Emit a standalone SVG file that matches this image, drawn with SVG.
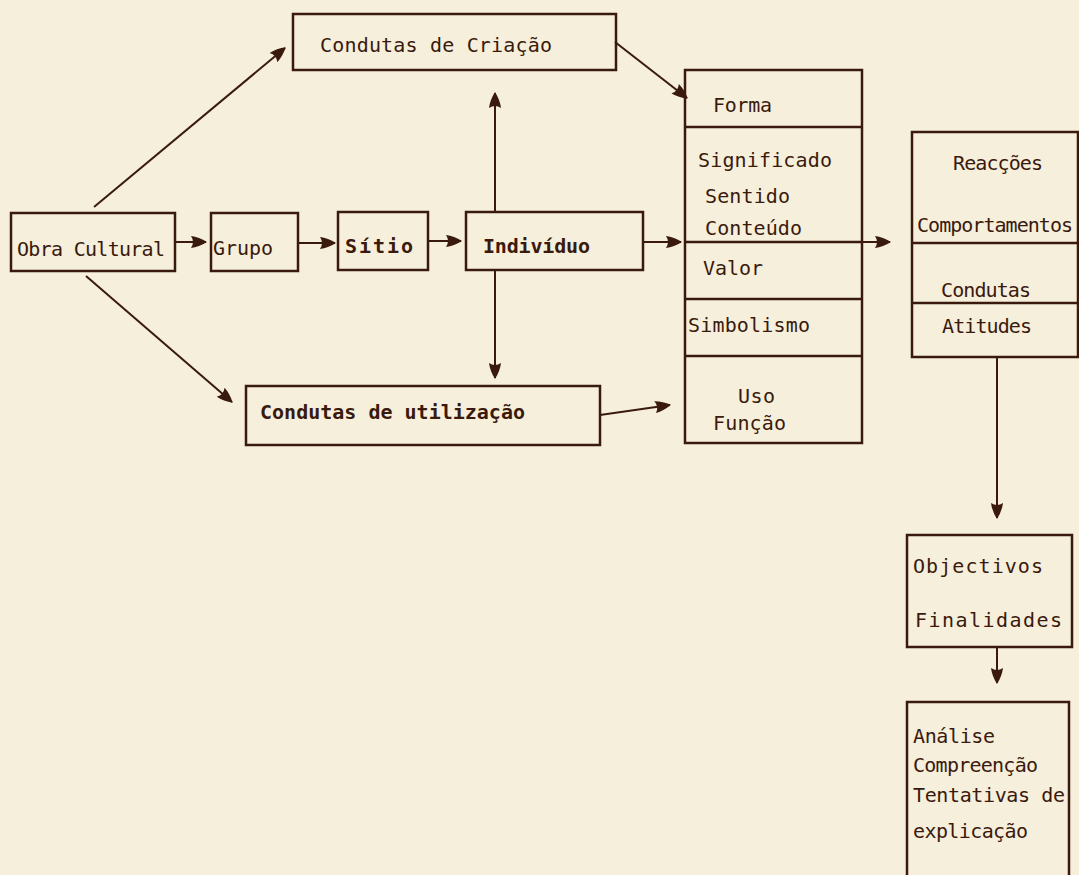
<svg xmlns="http://www.w3.org/2000/svg" width="1079" height="875" viewBox="0 0 1079 875">
<defs>
<style>
.bx{fill:none;stroke:#3a1a0c;stroke-width:2.5}
.ln{fill:none;stroke:#3a1a0c;stroke-width:2}
.t{font-family:"DejaVu Sans Mono","Liberation Mono",monospace;font-size:20px;fill:#3a1a0c}
.b{font-weight:bold}
</style>
<marker id="ah" viewBox="0 0 16 14" refX="15" refY="7" markerWidth="16" markerHeight="14" markerUnits="userSpaceOnUse" orient="auto">
<path d="M0,1 Q8,2 16,7 Q8,12 0,13 Q4,7 0,1 Z" fill="#3a1a0c"/>
</marker>
</defs>
<rect width="1079" height="875" fill="#f6efdc"/>
<g id="connectors">
<line class="ln" x1="94" y1="207" x2="285" y2="48" marker-end="url(#ah)"/>
<line class="ln" x1="86" y1="276" x2="232" y2="402" marker-end="url(#ah)"/>
<line class="ln" x1="175" y1="242" x2="206" y2="242" marker-end="url(#ah)"/>
<line class="ln" x1="298" y1="243" x2="335" y2="243" marker-end="url(#ah)"/>
<line class="ln" x1="428" y1="241" x2="461" y2="241" marker-end="url(#ah)"/>
<line class="ln" x1="643" y1="242" x2="681" y2="242" marker-end="url(#ah)"/>
<line class="ln" x1="495" y1="212" x2="495" y2="93" marker-end="url(#ah)"/>
<line class="ln" x1="495" y1="270" x2="495" y2="378" marker-end="url(#ah)"/>
<line class="ln" x1="600" y1="415" x2="670" y2="405" stroke-width="2.5" marker-end="url(#ah)"/>
<line class="ln" x1="615" y1="42" x2="687" y2="98" marker-end="url(#ah)"/>
<line class="ln" x1="862" y1="242" x2="890" y2="242" marker-end="url(#ah)"/>
<line class="ln" x1="997" y1="357" x2="997" y2="518" marker-end="url(#ah)"/>
<line class="ln" x1="997" y1="647" x2="997" y2="683" marker-end="url(#ah)"/>
</g>
<g id="obra">
<rect class="bx" x="11" y="213" width="164" height="58"/>
<text class="t" x="17" y="256" textLength="148">Obra Cultural</text>
</g>
<g id="grupo">
<rect class="bx" x="211" y="213" width="87" height="58"/>
<text class="t" x="213" y="255" textLength="60">Grupo</text>
</g>
<g id="sitio">
<rect class="bx" x="338" y="212" width="90" height="58"/>
<text class="t b" x="345" y="253" textLength="68">Sítio</text>
</g>
<g id="individuo">
<rect class="bx" x="466" y="212" width="177" height="58"/>
<text class="t b" x="483" y="253" textLength="107">Indivíduo</text>
</g>
<g id="criacao">
<rect class="bx" x="293" y="14" width="323" height="56"/>
<text class="t" x="320" y="52" textLength="232">Condutas de Criação</text>
</g>
<g id="utilizacao">
<rect class="bx" x="246" y="386" width="354" height="59"/>
<text class="t b" x="260" y="419" textLength="265">Condutas de utilização</text>
</g>
<g id="obra-aspectos">
<rect class="bx" x="685" y="70" width="177" height="373"/>
<line class="bx" x1="685" y1="127" x2="862" y2="127"/>
<line class="bx" x1="685" y1="242" x2="862" y2="242"/>
<line class="bx" x1="685" y1="299" x2="862" y2="299"/>
<line class="bx" x1="685" y1="356" x2="862" y2="356"/>
<text class="t" x="713" y="112" textLength="59">Forma</text>
<text class="t" x="698" y="167" textLength="134">Significado</text>
<text class="t" x="705" y="203" textLength="85">Sentido</text>
<text class="t" x="705" y="235" textLength="97">Conteúdo</text>
<text class="t" x="703" y="275" textLength="60">Valor</text>
<text class="t" x="688" y="332" textLength="122">Simbolismo</text>
<text class="t" x="738" y="403" textLength="37">Uso</text>
<text class="t" x="713" y="430" textLength="73">Função</text>
</g>
<g id="reaccoes">
<rect class="bx" x="912" y="132" width="166" height="225"/>
<line class="bx" x1="912" y1="243" x2="1078" y2="243"/>
<line class="bx" x1="912" y1="303" x2="1078" y2="303"/>
<text class="t" x="953" y="170" textLength="90">Reacções</text>
<text class="t" x="917" y="232" textLength="156">Comportamentos</text>
<text class="t" x="941" y="297" textLength="90">Condutas</text>
<text class="t" x="942" y="333" textLength="90">Atitudes</text>
</g>
<g id="objectivos">
<rect class="bx" x="907" y="535" width="165" height="112"/>
<text class="t" x="913" y="573" textLength="130">Objectivos</text>
<text class="t" x="915" y="627" textLength="147">Finalidades</text>
</g>
<g id="analise">
<path class="bx" d="M907,878 V702 H1069 V878"/>
<text class="t" x="913" y="743" textLength="82">Análise</text>
<text class="t" x="913" y="772" textLength="125">Compreenção</text>
<text class="t" x="913" y="802" textLength="152">Tentativas de</text>
<text class="t" x="913" y="838" textLength="115">explicação</text>
</g>
</svg>
